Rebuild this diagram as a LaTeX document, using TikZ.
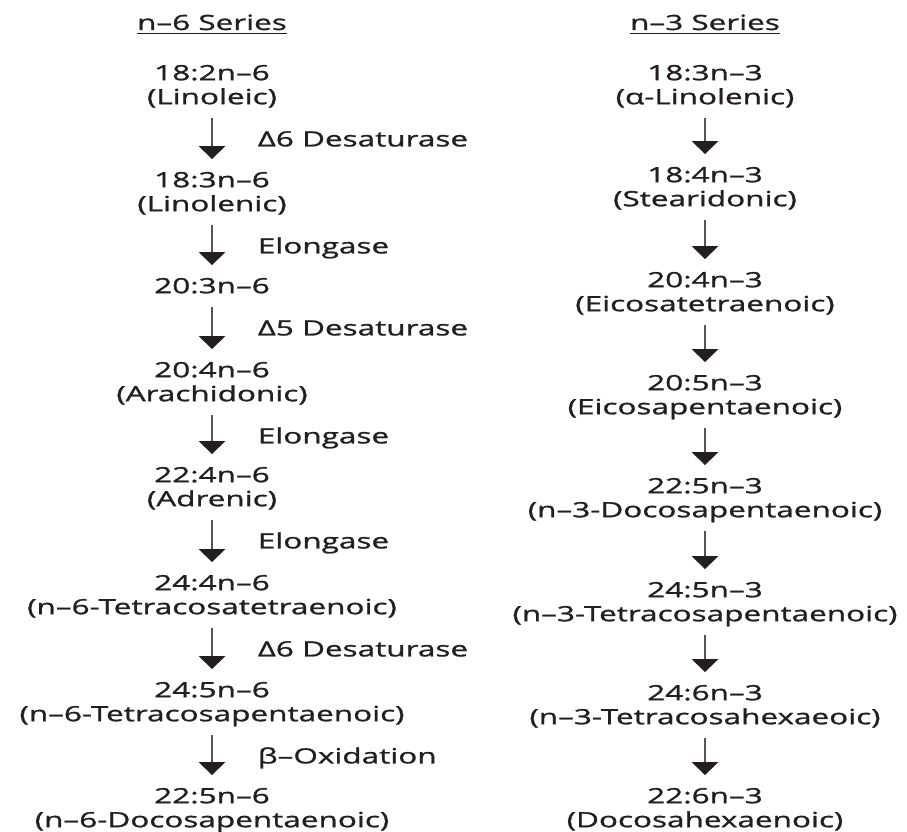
\documentclass[tikz,border=0pt]{standalone}
\usepackage{fontspec}
\setmainfont[FakeStretch=1.5,FakeBold=1.2]{Open Sans}
\usetikzlibrary{arrows.meta}
\definecolor{ink}{HTML}{231F20}
\definecolor{shaft}{HTML}{555555}
\tikzset{
  txt/.style={font=\fontsize{21}{24}\selectfont, text=ink, inner sep=0pt},
  cmp/.style={txt, anchor=north, align=center},
  hdr/.style={txt, anchor=base},
  lbl/.style={txt, at start, anchor=base west, xshift=45pt, yshift=-34.8pt},
  arr/.style={draw=shaft, line width=1.7pt, shorten <=6.8pt, shorten >=11.2pt,
    -{Triangle[width=27pt,length=13pt,color=ink,line width=0pt]}},
  uline/.style={draw=ink, line width=1.4pt}
}
\begin{document}
\begin{tikzpicture}[x=1pt,y=1pt]
\useasboundingbox (0,0) rectangle (907,-832);
% headers
\node[hdr] (H6) at (212,-30) {n–6 Series};
\node[hdr] (H3) at (705,-30) {n–3 Series};
\draw[uline] ([yshift=-3.5pt]H6.base west) -- ([yshift=-3.5pt]H6.base east);
\draw[uline] ([yshift=-3.5pt]H3.base west) -- ([yshift=-3.5pt]H3.base east);
% n-6 series
\node[cmp] (L1) at (212,-63.2) {\strut 18:2n–6\\\strut (Linoleic)};
\node[cmp] (L2) at (212,-170.2) {\strut 18:3n–6\\\strut (Linolenic)};
\node[cmp] (L3) at (212,-276.2) {\strut 20:3n–6};
\node[cmp] (L4) at (212,-360.2) {\strut 20:4n–6\\\strut (Arachidonic)};
\node[cmp] (L5) at (212,-465.2) {\strut 22:4n–6\\\strut (Adrenic)};
\node[cmp] (L6) at (212,-573.2) {\strut 24:4n–6\\\strut (n–6-Tetracosatetraenoic)};
\node[cmp] (L7) at (212,-680.2) {\strut 24:5n–6\\\strut (n–6-Tetracosapentaenoic)};
\node[cmp] (L8) at (212,-786.2) {\strut 22:5n–6\\\strut (n–6-Docosapentaenoic)};
\draw[arr] (L1.south) -- (L2.north) node[lbl] {Δ6 Desaturase};
\draw[arr] (L2.south) -- (L3.north) node[lbl] {Elongase};
\draw[arr] (L3.south) -- (L4.north) node[lbl] {Δ5 Desaturase};
\draw[arr] (L4.south) -- (L5.north) node[lbl] {Elongase};
\draw[arr] (L5.south) -- (L6.north) node[lbl] {Elongase};
\draw[arr] (L6.south) -- (L7.north) node[lbl] {Δ6 Desaturase};
\draw[arr] (L7.south) -- (L8.north) node[lbl] {β–Oxidation};
% n-3 series
\node[cmp] (R1) at (705,-63.2) {\strut 18:3n–3\\\strut (α-Linolenic)};
\node[cmp] (R2) at (705,-165.2) {\strut 18:4n–3\\\strut (Stearidonic)};
\node[cmp] (R3) at (705,-270.2) {\strut 20:4n–3\\\strut (Eicosatetraenoic)};
\node[cmp] (R4) at (705,-373.2) {\strut 20:5n–3\\\strut (Eicosapentaenoic)};
\node[cmp] (R5) at (705,-476.2) {\strut 22:5n–3\\\strut (n–3-Docosapentaenoic)};
\node[cmp] (R6) at (705,-580.2) {\strut 24:5n–3\\\strut (n–3-Tetracosapentaenoic)};
\node[cmp] (R7) at (705,-683.2) {\strut 24:6n–3\\\strut (n–3-Tetracosahexaeoic)};
\node[cmp] (R8) at (705,-786.2) {\strut 22:6n–3\\\strut (Docosahexaenoic)};
\draw[arr] (R1.south) -- (R2.north);
\draw[arr] (R2.south) -- (R3.north);
\draw[arr] (R3.south) -- (R4.north);
\draw[arr] (R4.south) -- (R5.north);
\draw[arr] (R5.south) -- (R6.north);
\draw[arr] (R6.south) -- (R7.north);
\draw[arr] (R7.south) -- (R8.north);
\end{tikzpicture}
\end{document}
